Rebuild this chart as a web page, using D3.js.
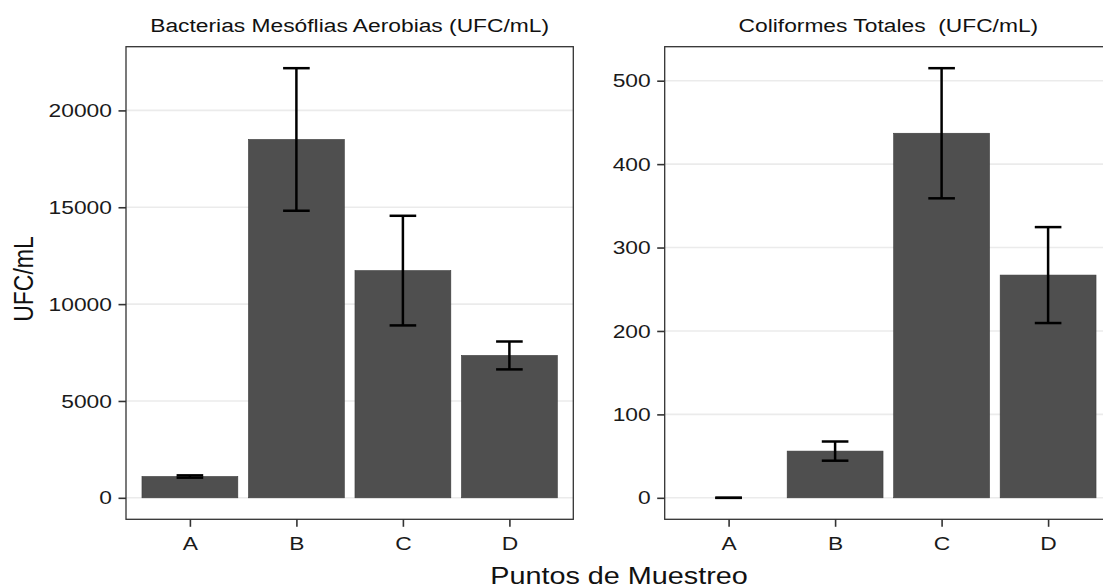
<!DOCTYPE html>
<html>
<head>
<meta charset="utf-8">
<script src="https://cdn.jsdelivr.net/npm/d3@7"></script>
<style>
  body { margin: 0; background: #fff; }
  svg text { font-family: "Liberation Sans", Arial, sans-serif; }
</style>
</head>
<body>
<div id="chart"></div>
<script>
const categories = ["A", "B", "C", "D"];

const mesofilasMean = [1100, 18500, 11730, 7350];
const mesofilasErr = [60, 3680, 2830, 720];
const mesofilasTicks = [0, 5000, 10000, 15000, 20000];

const coliformesMean = [0, 56, 437, 267];
const coliformesErr = [0, 11.5, 78, 57.5];
const coliformesTicks = [0, 100, 200, 300, 400, 500];

const panelTitles = ["Bacterias Mesóflias Aerobias (UFC/mL)", "Coliformes Totales  (UFC/mL)"];
const xTitle = "Puntos de Muestreo";
const yTitle = "UFC/mL";

const width = 1103, height = 588;
const panelTop = 46.7, panelBottom = 519.3, panelWidth = 447.3;
const stretch = 1.2;

const svg = d3.select("#chart").append("svg")
    .attr("width", width)
    .attr("height", height);

function drawPanel(left, means, errs, ticks, title) {
    const right = left + panelWidth;

    const x = d3.scalePoint()
        .domain(categories)
        .range([left, right])
        .padding(0.6);
    const step = x.step();

    // ggplot style: 5% expansion around data incl. error bars
    const hi = d3.max(means, (d, i) => d + errs[i]);
    const lo = Math.min(0, d3.min(means, (d, i) => d - errs[i]));
    const pad = (hi - lo) * 0.05;
    const y = d3.scaleLinear()
        .domain([lo - pad, hi + pad])
        .range([panelBottom, panelTop]);

    const g = svg.append("g");

    g.append("g")
        .selectAll("line")
        .data(ticks)
        .join("line")
        .attr("x1", left)
        .attr("x2", right)
        .attr("y1", d => y(d))
        .attr("y2", d => y(d))
        .style("stroke", "#ebebeb")
        .style("stroke-width", 1.6);

    g.append("g")
        .selectAll("rect")
        .data(means)
        .join("rect")
        .attr("x", (d, i) => x(categories[i]) - step * 0.45)
        .attr("width", step * 0.9)
        .attr("y", d => y(d))
        .attr("height", d => y(0) - y(d))
        .style("fill", "#4f4f4f")
        .style("stroke", "#3a3a3a")
        .style("stroke-width", 0.6);

    const capW = step * 0.25;
    const eb = g.append("g")
        .selectAll("g")
        .data(means)
        .join("g")
        .style("stroke", "#000")
        .style("stroke-width", 2.5);
    eb.append("line")
        .attr("x1", (d, i) => x(categories[i]))
        .attr("x2", (d, i) => x(categories[i]))
        .attr("y1", (d, i) => y(d + errs[i]))
        .attr("y2", (d, i) => y(d - errs[i]));
    eb.append("line")
        .attr("x1", (d, i) => x(categories[i]) - capW / 2)
        .attr("x2", (d, i) => x(categories[i]) + capW / 2)
        .attr("y1", (d, i) => y(d + errs[i]))
        .attr("y2", (d, i) => y(d + errs[i]));
    eb.append("line")
        .attr("x1", (d, i) => x(categories[i]) - capW / 2)
        .attr("x2", (d, i) => x(categories[i]) + capW / 2)
        .attr("y1", (d, i) => y(d - errs[i]))
        .attr("y2", (d, i) => y(d - errs[i]));

    g.append("rect")
        .attr("x", left)
        .attr("y", panelTop)
        .attr("width", panelWidth)
        .attr("height", panelBottom - panelTop)
        .style("fill", "none")
        .style("stroke", "#333")
        .style("stroke-width", 1.3);

    const yAxis = g.append("g")
        .attr("transform", `translate(${left},0)`)
        .call(d3.axisLeft(y).tickValues(ticks).tickSize(7.5).tickPadding(4.2).tickFormat(d3.format("d")));
    const xAxis = g.append("g")
        .attr("transform", `translate(0,${panelBottom})`)
        .call(d3.axisBottom(x).tickSize(7.5).tickPadding(9.7));

    [yAxis, xAxis].forEach(ax => {
        ax.select(".domain").remove();
        ax.selectAll(".tick line")
            .style("stroke", "#333")
            .style("stroke-width", 1.6);
        ax.selectAll("text")
            .attr("transform", `scale(${stretch},1)`)
            .style("font-size", "19px")
            .style("font-family", "'Liberation Sans', Arial, sans-serif")
            .style("fill", "#1a1a1a");
    });

    svg.append("text")
        .attr("transform", `translate(${(left + right) / 2},31.5) scale(${stretch},1)`)
        .attr("text-anchor", "middle")
        .style("font-size", "19px")
        .style("white-space", "pre")
        .style("fill", "#111")
        .text(title);
}

drawPanel(126, mesofilasMean, mesofilasErr, mesofilasTicks, panelTitles[0]);
drawPanel(664.7, coliformesMean, coliformesErr, coliformesTicks, panelTitles[1]);

svg.append("text")
    .attr("transform", `translate(${(126 + 664.7 + panelWidth) / 2},583.5) scale(${stretch},1)`)
    .attr("text-anchor", "middle")
    .style("font-size", "24px")
    .style("fill", "#111")
    .text(xTitle);

svg.append("text")
    .attr("transform", `translate(33.3,${(panelTop + panelBottom) / 2 - 4}) rotate(-90) scale(1,${stretch})`)
    .attr("text-anchor", "middle")
    .style("font-size", "23px")
    .style("fill", "#111")
    .text(yTitle);
</script>
</body>
</html>
